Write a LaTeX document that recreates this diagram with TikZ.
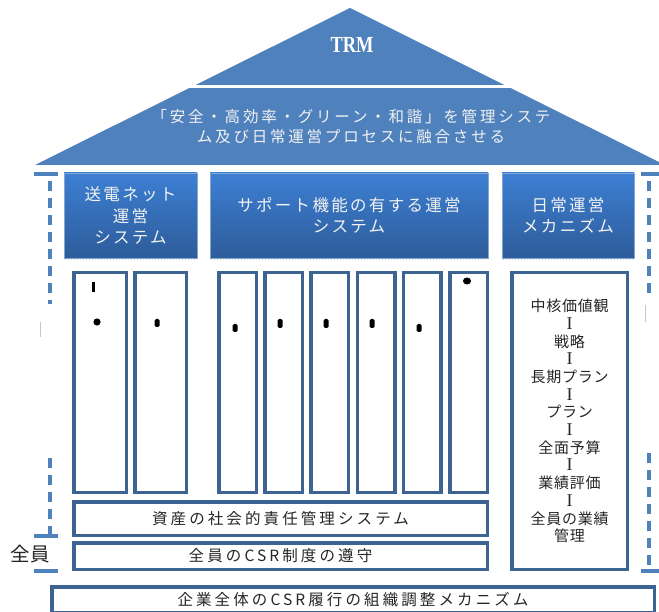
\documentclass[tikz,border=0pt]{standalone}
\usepackage{fontspec}
\setmainfont{Liberation Serif}
\newfontfamily\jp{Noto Sans CJK JP}
\newfontfamily\jpw[LetterSpace=14]{Noto Sans CJK JP}
\newfontfamily\jpt[LetterSpace=18]{Noto Sans CJK JP}
\newfontfamily\jpb[LetterSpace=20]{Noto Sans CJK JP}
\newfontfamily\jpr[LetterSpace=5]{Noto Sans CJK JP}
\definecolor{roof}{HTML}{4F81BD}
\definecolor{hdtop}{HTML}{3D7FD3}
\definecolor{hdbot}{HTML}{2D5C9A}
\definecolor{frame}{HTML}{3C6391}
\definecolor{dashc}{HTML}{4F81BD}
\newcommand{\sepI}{{\rmfamily\fontsize{18}{17.7}\selectfont I}}
\begin{document}
\begin{tikzpicture}[x=1pt,y=-1pt,
  pillar/.style={draw=frame,line width=3.5pt,fill=white,inner sep=0pt,minimum height=219.5pt},
  bar/.style={draw=frame,line width=3.5pt,fill=white,inner sep=0pt,font=\jpb\fontsize{15.5}{17}\selectfont,text=black!85},
  header/.style={draw=roof!70!white,line width=0.6pt,top color=hdtop,bottom color=hdbot,inner sep=0pt,text=white!95!black,align=center,minimum height=85pt,font=\jpw\fontsize{16.5}{21.5}\selectfont},
  bracket/.style={draw=dashc,line width=4pt,dash pattern=on 10pt off 7pt},
  capline/.style={draw=dashc,line width=4pt},
  blot/.style={fill=black,rounded corners=1.5pt},
  faint/.style={draw=gray!45,line width=0.8pt}
]
\useasboundingbox (0,0) rectangle (659,612);
\fill[white] (0,0) rectangle (659,612);
\clip (0,0) rectangle (659,612);

% roof
\fill[roof] (350,8) -- (665,165) -- (35,165) -- cycle;
\draw[white,line width=3pt] (150,87) -- (560,87);
\node[font=\bfseries\fontsize{23}{24}\selectfont,text=white] (trm) at (352,45) {\scalebox{0.8}[1]{TRM}};
\node[font=\jpt\fontsize{15.5}{20}\selectfont,text=white!95!black,align=center] (goal) at (351,127)
  {「安全・高効率・グリーン・和諧」を管理システ\\ム及び日常運営プロセスに融合させる};

% header boxes
\foreach \xa/\xb in {64/197,210/488,502/634}
  \draw[gray!35,line width=1pt,dotted] (\xa+1,260) -- (\xb-1,260);
\node[header,minimum width=133pt] (h1) at (130.5,215.5) {送電ネット\\運営\\システム};
\node[header,minimum width=278pt] (h2) at (349,215.5) {サポート機能の有する運営\\システム};
\node[header,minimum width=132pt] (h3) at (568,215.5) {日常運営\\メカニズム};

% pillars
\node[pillar,minimum width=52.5pt] (p1) at (100,382.5) {};
\node[pillar,minimum width=51.5pt] (p2) at (160.5,382.5) {};
\node[pillar,minimum width=37.5pt] (p3) at (237.5,382.5) {};
\node[pillar,minimum width=37.5pt] (p4) at (283.7,382.5) {};
\node[pillar,minimum width=37.5pt] (p5) at (329.9,382.5) {};
\node[pillar,minimum width=37.5pt] (p6) at (376.1,382.5) {};
\node[pillar,minimum width=37.5pt] (p7) at (422.3,382.5) {};
\node[pillar,minimum width=37.5pt] (p8) at (468.5,382.5) {};

% stray marks inside pillars
\fill[black] (92,282) rectangle (94.5,292);
\fill[black] (97,322) circle (3.6);
\fill[blot] (154.5,319) rectangle (159.5,327);
\fill[blot] (232.5,324) rectangle (237.5,332);
\fill[blot] (277.5,319) rectangle (282.5,328);
\fill[blot] (323.5,319) rectangle (328.5,328);
\fill[blot] (369.5,319) rectangle (374.5,328);
\fill[blot] (416.5,324) rectangle (421.5,332);
\fill[black] (467,281) ellipse (4 and 3.5);

% bars
\node[bar,minimum width=413.5pt,minimum height=33.5pt] (b1) at (280.5,518.5) {資産の社会的責任管理システム};
\node[bar,minimum width=413.5pt,minimum height=26.5pt] (b2) at (280.5,556) {全員のCSR制度の遵守};
\node[bar,minimum width=602.5pt,minimum height=26pt] (b3) at (353,600) {企業全体のCSR履行の組織調整メカニズム};

% right box
\node[bar,minimum width=115.5pt,minimum height=296.5pt,align=center,font=\jpr\fontsize{15}{17.7}\selectfont] (r) at (569.5,421)
  {中核価値観\\\sepI\\戦略\\\sepI\\長期プラン\\\sepI\\プラン\\\sepI\\全面予算\\\sepI\\業績評価\\\sepI\\全員の業績\\管理};

% side brackets
\coordinate (lt1) at (50,181); \coordinate (lt2) at (50,304);
\coordinate (lb1) at (50,536); \coordinate (lb2) at (50,455);
\coordinate (rt1) at (649,181); \coordinate (rt2) at (649,293);
\coordinate (rb1) at (649,565); \coordinate (rb2) at (649,447);
\draw[bracket] (lt1) -- (lt2);
\draw[bracket] (lb1) -- (lb2);
\draw[bracket] (rt1) -- (rt2);
\draw[bracket] (rb1) -- (rb2);
\draw[capline] (34,174) -- (58,174);
\draw[capline] (34,536) -- (58,536);
\draw[capline] (34,571) -- (58,571);
\draw[capline] (641,174) -- (660,174);
\draw[capline] (641,571) -- (660,571);
\node[font=\jp\fontsize{19.5}{21}\selectfont,text=black!85] (all) at (30,554) {全員};

% faint marks
\draw[faint] (40,322) -- (40,337);
\draw[faint] (645,305) -- (645,322);
\end{tikzpicture}
\end{document}
